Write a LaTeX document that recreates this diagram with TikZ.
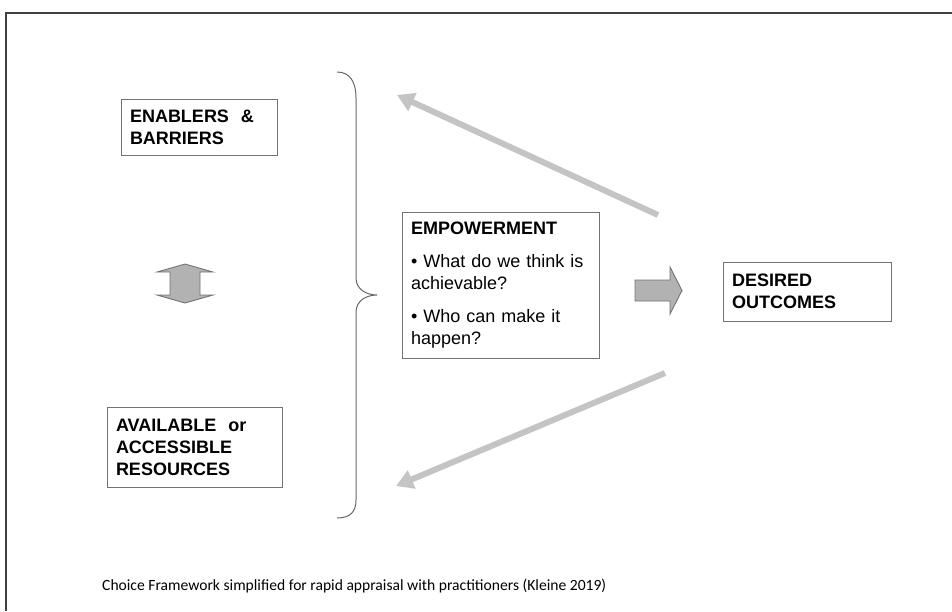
\documentclass[tikz,border=0pt]{standalone}
\usepackage{fontspec}
\setmainfont{Liberation Sans}
\newfontfamily\capfont{Carlito}
\usetikzlibrary{arrows.meta}
\begin{document}
\begin{tikzpicture}[x=1pt,y=-1pt,
  box/.style={draw=black!55, line width=0.9pt, rectangle, inner xsep=9pt, inner ysep=0pt,
    align=left, font=\fontsize{18}{22}\selectfont},
  garrow/.style={draw=black!23, line width=6pt, -{Triangle[width=19pt,length=17pt]}},
  blockarrow/.style={fill=black!30, draw=black!55, line width=0.9pt},
  bracestyle/.style={draw=black!60, line width=1pt},
  frame/.style={draw=black!75, line width=2pt}]
\useasboundingbox (0,0) rectangle (952,611);
\draw[frame] (952,12.5) -- (5.5,12.5) -- (5.5,611);

\node[box, text width=138pt, minimum height=56pt] (enab) at (199,127)
  {{\bfseries ENABLERS \ \&}\\ {\bfseries BARRIERS}};
\node[box, text width=157pt, minimum height=80pt] (avail) at (194.5,447)
  {{\bfseries AVAILABLE \ or}\\ {\bfseries ACCESSIBLE}\\ {\bfseries RESOURCES}};
\node[box, text width=179pt, minimum height=146pt] (emp) at (500.5,285)
  {{\bfseries EMPOWERMENT}\\[11pt] • What do we think is\\ achievable?\\[11pt] • Who can make it\\ happen?};
\node[box, text width=150pt, minimum height=59pt] (des) at (807,291.5)
  {{\bfseries DESIRED}\\ {\bfseries OUTCOMES}};

% brace
\draw[bracestyle] (337,72) .. controls (350,72) and (356,82) .. (356,98)
  -- (356,278) .. controls (356,289) and (366,295) .. (377,295)
  .. controls (366,295) and (356,301) .. (356,312)
  -- (356,500) .. controls (356,512) and (350,518) .. (337,518);

% double vertical arrow
\draw[blockarrow] (185,264) -- (213,272) -- (200,272) -- (200,295) -- (213,295)
  -- (185,303) -- (157,295) -- (170,295) -- (170,272) -- (157,272) -- cycle;

% right block arrow
\draw[blockarrow] (635,280) -- (670,280) -- (670,267) -- (682,290.5) -- (670,314)
  -- (670,301) -- (635,301) -- cycle;

% gray feedback arrows
\coordinate (ua1) at (658,215);
\coordinate (ua2) at (397,95);
\coordinate (la1) at (665,373);
\coordinate (la2) at (396,486);
\draw[garrow] (ua1) -- (ua2);
\draw[garrow] (la1) -- (la2);

\node[anchor=base west, inner sep=0pt, font=\capfont\fontsize{15.6}{18}\selectfont] (cap) at (102,590)
  {Choice Framework simplified for rapid appraisal with practitioners (Kleine 2019)};
\end{tikzpicture}
\end{document}
